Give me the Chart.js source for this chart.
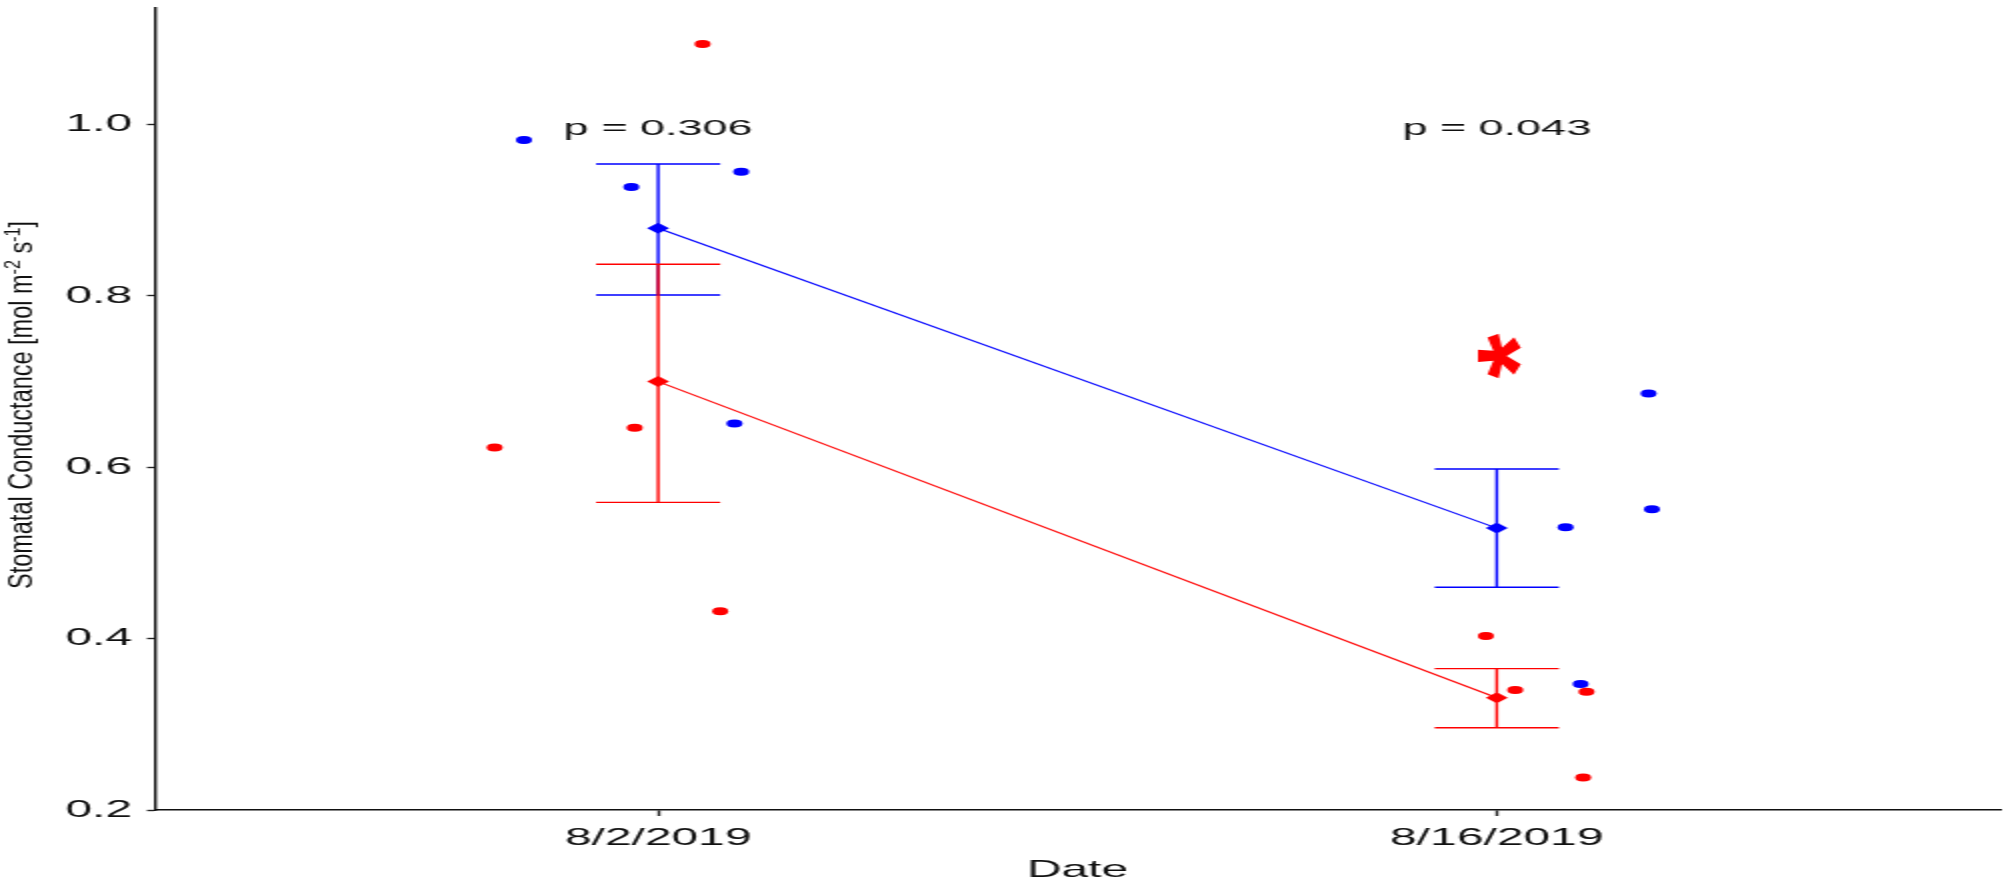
<!DOCTYPE html>
<html>
<head>
<meta charset="utf-8">
<script src="https://cdn.jsdelivr.net/npm/chart.js@4.4.1/dist/chart.umd.min.js"></script>
<style>
  html, body { margin: 0; padding: 0; background: #fff; overflow: hidden; }
  /* plot is laid out at half width and stretched sideways */
  #wrap { width: 1006px; height: 885px; transform: scaleX(2); transform-origin: 0 0; }
</style>
</head>
<body>
<div id="wrap"><canvas id="chart" width="1006" height="885"></canvas></div>
<script>
const dates = ['8/2/2019', '8/16/2019'];
const yTicks = [0.2, 0.4, 0.6, 0.8, 1.0];

// single measurements, x = date index + jitter
const blueX = [0.840, 0.968, 1.099, 1.091, 2.082, 2.185, 2.100, 2.181];
const blueY = [0.982, 0.927, 0.945, 0.651, 0.530, 0.551, 0.347, 0.686];
const redX = [0.805, 0.972, 1.053, 1.074, 1.987, 2.022, 2.107, 2.103];
const redY = [0.623, 0.646, 1.094, 0.432, 0.403, 0.340, 0.338, 0.238];

// means and error bar ends for each date
const blueMean = [0.879, 0.529];
const blueLow = [0.801, 0.460];
const blueHigh = [0.954, 0.598];
const redMean = [0.700, 0.331];
const redLow = [0.559, 0.296];
const redHigh = [0.837, 0.365];

const pLabels = ['p = 0.306', 'p = 0.043'];
const pLabelY = 1.0;
const star = { x: 2.005, y: 0.73 };

const FONT = "'Liberation Sans', Arial, sans-serif";
const BLUE = '#0000ff';
const RED = '#ff0000';
const INK = '#111';

const toPoints = (xs, ys) => xs.map((v, i) => ({ x: v, y: ys[i] }));
const meanPoints = (m) => m.map((v, i) => ({ x: i + 1, y: v }));

const errorBars = {
  id: 'errorBars',
  beforeDatasetsDraw(chart) {
    const { ctx, scales: { x, y } } = chart;
    const bars = [[BLUE, blueLow, blueHigh], [RED, redLow, redHigh]];
    ctx.save();
    ctx.lineWidth = 1.4;
    bars.forEach(([color, low, high]) => {
      ctx.strokeStyle = color;
      dates.forEach((d, i) => {
        const px = x.getPixelForValue(i + 1);
        const cap = x.getPixelForValue(i + 1.074) - px;
        const top = y.getPixelForValue(high[i]);
        const bot = y.getPixelForValue(low[i]);
        ctx.beginPath();
        ctx.moveTo(px, top); ctx.lineTo(px, bot);
        ctx.moveTo(px - cap, top); ctx.lineTo(px + cap, top);
        ctx.moveTo(px - cap, bot); ctx.lineTo(px + cap, bot);
        ctx.stroke();
      });
    });
    ctx.restore();
  }
};

const annotations = {
  id: 'annotations',
  afterDraw(chart) {
    const { ctx, scales: { x, y }, chartArea } = chart;
    ctx.save();

    // p values above each date
    ctx.fillStyle = INK;
    ctx.font = '22.5px ' + FONT;
    ctx.textAlign = 'center';
    ctx.textBaseline = 'middle';
    pLabels.forEach((t, i) => {
      ctx.fillText(t, x.getPixelForValue(i + 1), y.getPixelForValue(pLabelY) + 4);
    });

    // significance mark, turned on its side
    ctx.font = 'bold 100px ' + FONT;
    ctx.textAlign = 'left';
    ctx.textBaseline = 'alphabetic';
    const m = ctx.measureText('*');
    const gw = m.actualBoundingBoxLeft + m.actualBoundingBoxRight;
    const gh = m.actualBoundingBoxAscent + m.actualBoundingBoxDescent;
    const gx = (m.actualBoundingBoxRight - m.actualBoundingBoxLeft) / 2;
    const gy = (m.actualBoundingBoxDescent - m.actualBoundingBoxAscent) / 2;
    ctx.save();
    ctx.translate(x.getPixelForValue(star.x), y.getPixelForValue(star.y));
    ctx.rotate(-Math.PI / 2);
    ctx.scale(45 / gw, 21.5 / gh);
    ctx.fillStyle = RED;
    ctx.fillText('*', -gx, -gy);
    ctx.restore();

    // y axis title with superscripts
    const parts = [
      { t: 'Stomatal Conductance [mol m', sup: false },
      { t: '-2', sup: true },
      { t: ' s', sup: false },
      { t: '-1', sup: true },
      { t: ']', sup: false }
    ];
    const base = '16px ' + FONT;
    const small = '11px ' + FONT;
    let total = 0;
    parts.forEach(p => {
      ctx.font = p.sup ? small : base;
      p.w = ctx.measureText(p.t).width;
      total += p.w;
    });
    ctx.save();
    ctx.translate(11.5, (chartArea.top + chartArea.bottom) / 2 - 4);
    ctx.rotate(-Math.PI / 2);
    ctx.scale(368 / total, 1);
    ctx.fillStyle = INK;
    ctx.textBaseline = 'middle';
    let cx = -total / 2;
    parts.forEach(p => {
      ctx.font = p.sup ? small : base;
      ctx.fillText(p.t, cx, p.sup ? -5 : 0);
      cx += p.w;
    });
    ctx.restore();

    ctx.restore();
  }
};

new Chart(document.getElementById('chart'), {
  type: 'scatter',
  data: {
    datasets: [
      {
        label: 'red',
        data: toPoints(redX, redY),
        backgroundColor: RED,
        pointRadius: 4,
        pointBorderWidth: 0
      },
      {
        label: 'blue',
        data: toPoints(blueX, blueY),
        backgroundColor: BLUE,
        pointRadius: 4,
        pointBorderWidth: 0
      },
      {
        type: 'line',
        label: 'red mean',
        data: meanPoints(redMean),
        borderColor: RED,
        backgroundColor: RED,
        borderWidth: 1.1,
        showLine: true,
        fill: false,
        pointStyle: 'rectRot',
        pointRadius: 5.5,
        pointBorderWidth: 0
      },
      {
        type: 'line',
        label: 'blue mean',
        data: meanPoints(blueMean),
        borderColor: BLUE,
        backgroundColor: BLUE,
        borderWidth: 1.1,
        showLine: true,
        fill: false,
        pointStyle: 'rectRot',
        pointRadius: 5.5,
        pointBorderWidth: 0
      }
    ]
  },
  options: {
    responsive: false,
    animation: false,
    devicePixelRatio: 1,
    layout: { padding: { top: 8, right: 6, left: 0, bottom: 0 } },
    plugins: {
      legend: { display: false },
      tooltip: { enabled: false }
    },
    scales: {
      x: {
        type: 'linear',
        min: 0.4,
        max: 2.6,
        afterBuildTicks: (s) => { s.ticks = dates.map((d, i) => ({ value: i + 1 })); },
        afterFit: (s) => { s.height = 75; s.paddingLeft = 0; s.paddingRight = 0; },
        ticks: {
          callback: (v) => dates[v - 1],
          font: { family: FONT, size: 24 },
          color: INK,
          padding: 7.5,
          autoSkip: false,
          maxRotation: 0
        },
        grid: { drawOnChartArea: false, drawTicks: true, tickLength: 6, tickColor: '#222', tickWidth: 1.4 },
        border: { color: INK, width: 1.4 },
        title: {
          display: true,
          text: 'Date',
          font: { family: FONT, size: 24 },
          color: INK,
          padding: { top: 0, bottom: 0.5 }
        }
      },
      y: {
        min: 0.2,
        max: 1.136,
        afterBuildTicks: (s) => { s.ticks = yTicks.map(v => ({ value: v })); },
        afterFit: (s) => { s.width = 77.5; s.paddingTop = 0; s.paddingBottom = 0; },
        ticks: {
          callback: (v) => v.toFixed(1),
          font: { family: FONT, size: 24 },
          color: INK,
          padding: 7.5
        },
        grid: { drawOnChartArea: false, drawTicks: true, tickLength: 4, tickColor: '#222', tickWidth: 1.4 },
        border: { color: INK, width: 1.4 }
      }
    }
  },
  plugins: [errorBars, annotations]
});
</script>
</body>
</html>
